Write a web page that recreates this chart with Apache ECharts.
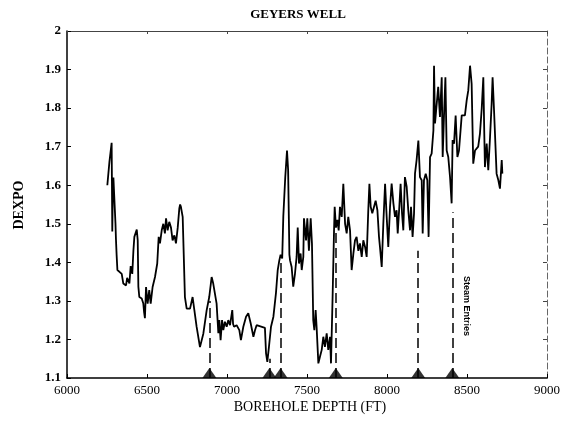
<!DOCTYPE html>
<html>
<head>
<meta charset="utf-8">
<script src="https://cdn.jsdelivr.net/npm/echarts@6/dist/echarts.min.js"></script>
<style>html,body{margin:0;padding:0;background:#fff}#chart{width:565px;height:425px}</style>
</head>
<body>
<div id="chart"></div>
<script>
const depthFt = [6252,6265,6279,6283,6287,6290,6300,6303,6306,6310,6315,6321,6342,6352,6360,6369,6376,6383,6390,6398,6408,6415,6421,6428,6436,6442,6446,6452,6467,6477,6482,6487,6494,6504,6514,6523,6535,6550,6564,6573,6581,6592,6602,6612,6619,6629,6639,6650,6660,6671,6681,6692,6702,6707,6712,6723,6731,6737,6748,6769,6785,6796,6810,6831,6852,6873,6889,6904,6914,6925,6935,6946,6952,6960,6969,6977,6987,6998,7008,7019,7033,7038,7044,7060,7077,7087,7102,7119,7133,7148,7165,7175,7185,7237,7244,7252,7262,7275,7290,7306,7317,7327,7335,7345,7352,7364,7375,7382,7390,7394,7404,7414,7425,7435,7442,7450,7460,7467,7477,7481,7494,7502,7512,7523,7531,7539,7546,7554,7560,7571,7581,7592,7602,7612,7623,7633,7644,7650,7660,7669,7673,7681,7690,7698,7706,7717,7727,7738,7748,7758,7769,7779,7790,7800,7810,7821,7831,7842,7852,7863,7873,7883,7890,7898,7908,7919,7929,7940,7950,7956,7967,7977,7988,7998,8008,8019,8029,8040,8050,8060,8067,8077,8085,8094,8102,8112,8123,8133,8144,8150,8160,8169,8175,8185,8196,8206,8217,8223,8231,8242,8252,8260,8269,8279,8290,8294,8300,8310,8320,8331,8342,8348,8356,8365,8373,8383,8394,8404,8410,8419,8429,8440,8450,8467,8487,8498,8508,8519,8529,8539,8550,8570,8581,8592,8602,8608,8612,8623,8633,8644,8654,8660,8669,8685,8696,8706,8717,8721];
const dexpo = [1.60,1.66,1.71,1.48,1.60,1.62,1.62,1.50,1.46,1.42,1.38,1.375,1.37,1.345,1.35,1.34,1.36,1.36,1.345,1.39,1.37,1.43,1.466,1.47,1.485,1.457,1.337,1.31,1.306,1.293,1.27,1.255,1.336,1.293,1.328,1.293,1.336,1.362,1.397,1.466,1.449,1.483,1.50,1.475,1.514,1.483,1.505,1.49,1.457,1.47,1.449,1.49,1.54,1.55,1.544,1.518,1.514,1.31,1.28,1.28,1.31,1.276,1.233,1.18,1.215,1.276,1.31,1.362,1.345,1.35,1.293,1.216,1.25,1.198,1.25,1.224,1.246,1.233,1.25,1.237,1.276,1.24,1.233,1.237,1.224,1.198,1.233,1.259,1.268,1.242,1.207,1.224,1.237,1.23,1.164,1.142,1.18,1.233,1.259,1.32,1.38,1.405,1.42,1.41,1.52,1.62,1.69,1.64,1.42,1.405,1.388,1.337,1.371,1.414,1.49,1.397,1.423,1.38,1.414,1.514,1.457,1.514,1.43,1.514,1.449,1.25,1.224,1.276,1.233,1.138,1.155,1.173,1.207,1.181,1.216,1.173,1.207,1.138,1.31,1.483,1.544,1.49,1.51,1.483,1.544,1.518,1.604,1.50,1.475,1.518,1.483,1.38,1.423,1.457,1.466,1.43,1.449,1.414,1.457,1.44,1.414,1.535,1.604,1.544,1.527,1.544,1.56,1.535,1.466,1.44,1.388,1.50,1.604,1.518,1.44,1.544,1.604,1.553,1.518,1.535,1.475,1.544,1.604,1.527,1.483,1.621,1.596,1.535,1.483,1.544,1.466,1.527,1.63,1.665,1.716,1.621,1.613,1.475,1.613,1.63,1.613,1.466,1.673,1.682,1.742,1.91,1.76,1.76,1.855,1.777,1.88,1.673,1.777,1.88,1.69,1.673,1.621,1.553,1.717,1.708,1.781,1.673,1.69,1.781,1.781,1.82,1.846,1.91,1.863,1.656,1.69,1.70,1.734,1.799,1.88,1.734,1.647,1.708,1.639,1.725,1.811,1.88,1.794,1.63,1.613,1.591,1.665,1.63];
const entryDepth = [6890,7265,7335,7680,8195,8408];
const entryTop = [1.30,1.15,1.41,1.48,1.43,1.53];
const xTicks = [6000,6500,7000,7500,8000,8500,9000];
const yTicks = [1.1,1.2,1.3,1.4,1.5,1.6,1.7,1.8,1.9,2];

const chart = echarts.init(document.getElementById('chart'));
const serif = 'Liberation Serif';
const lineData = depthFt.map((d,i)=>[d,dexpo[i]]);
const entryLines = entryDepth.map((d,i)=>[{coord:[d,1.1]},{coord:[d,entryTop[i]]}]);
const triData = entryDepth.map(d=>[d,1.1]);

chart.setOption({
  animation:false,
  backgroundColor:'#fff',
  grid:{left:67,right:18,top:31,bottom:47},
  xAxis:[{
    type:'value',min:xTicks[0],max:xTicks[xTicks.length-1],interval:500,
    axisLine:{lineStyle:{color:'#000',width:1.5}},
    axisTick:{inside:true,length:4,lineStyle:{color:'#000'}},
    splitLine:{show:false},
    axisLabel:{margin:6,fontFamily:serif,fontSize:13,
      color:v=>v===9000?'#888':'#000',
      formatter:v=>String(v)}
  },{
    type:'value',position:'top',min:6000,max:9000,interval:500,
    axisLine:{show:true,lineStyle:{color:'#444',width:1}},
    axisTick:{inside:true,length:3,lineStyle:{color:'#444'}},
    axisLabel:{show:false},splitLine:{show:false}
  }],
  yAxis:[{
    type:'value',min:1.1,max:2,interval:0.1,
    axisLine:{show:true,lineStyle:{color:'#000',width:1.5}},
    axisTick:{inside:true,length:4,lineStyle:{color:'#000'}},
    splitLine:{show:false},
    axisLabel:{margin:6,fontFamily:serif,fontSize:13,fontWeight:'bold',color:'#000',
      formatter:v=>{const r=Math.round(v*10)/10;return r===2?'2':r.toFixed(1);}}
  },{
    type:'value',position:'right',min:1.1,max:2,interval:0.1,
    axisLine:{show:true,lineStyle:{color:'#666',width:1,type:[6,3]}},
    axisTick:{inside:true,length:4,lineStyle:{color:'#444'}},
    axisLabel:{show:false},splitLine:{show:false}
  }],
  series:[{
    type:'line',data:lineData,showSymbol:false,symbol:'none',
    lineStyle:{color:'#000',width:1.8},
    markLine:{
      silent:true,symbol:'none',label:{show:false},
      lineStyle:{color:'#000',width:1.5,type:[10,5]},
      data:entryLines
    }
  },{
    type:'scatter',data:triData,symbol:'triangle',symbolSize:[14,10],symbolOffset:[0,-5],
    itemStyle:{color:'#000'}
  }],
  graphic:[
    {type:'text',x:298,y:15,style:{text:'GEYERS WELL',font:'bold 13px "Liberation Serif"',fill:'#000',align:'center',verticalAlign:'middle'}},
    {type:'text',x:310,y:407,style:{text:'BOREHOLE DEPTH (FT)',font:'14px "Liberation Serif"',fill:'#000',align:'center',verticalAlign:'middle'}},
    {type:'text',x:19,y:205,rotation:Math.PI/2,style:{text:'DEXPO',font:'bold 14px "Liberation Serif"',fill:'#000',align:'center',verticalAlign:'middle'}},
    {type:'text',x:466,y:306,rotation:-Math.PI/2,style:{text:'Steam Entries',font:'bold 9px "Liberation Sans"',fill:'#000',align:'center',verticalAlign:'middle'}}
  ]
});
</script>
</body>
</html>
